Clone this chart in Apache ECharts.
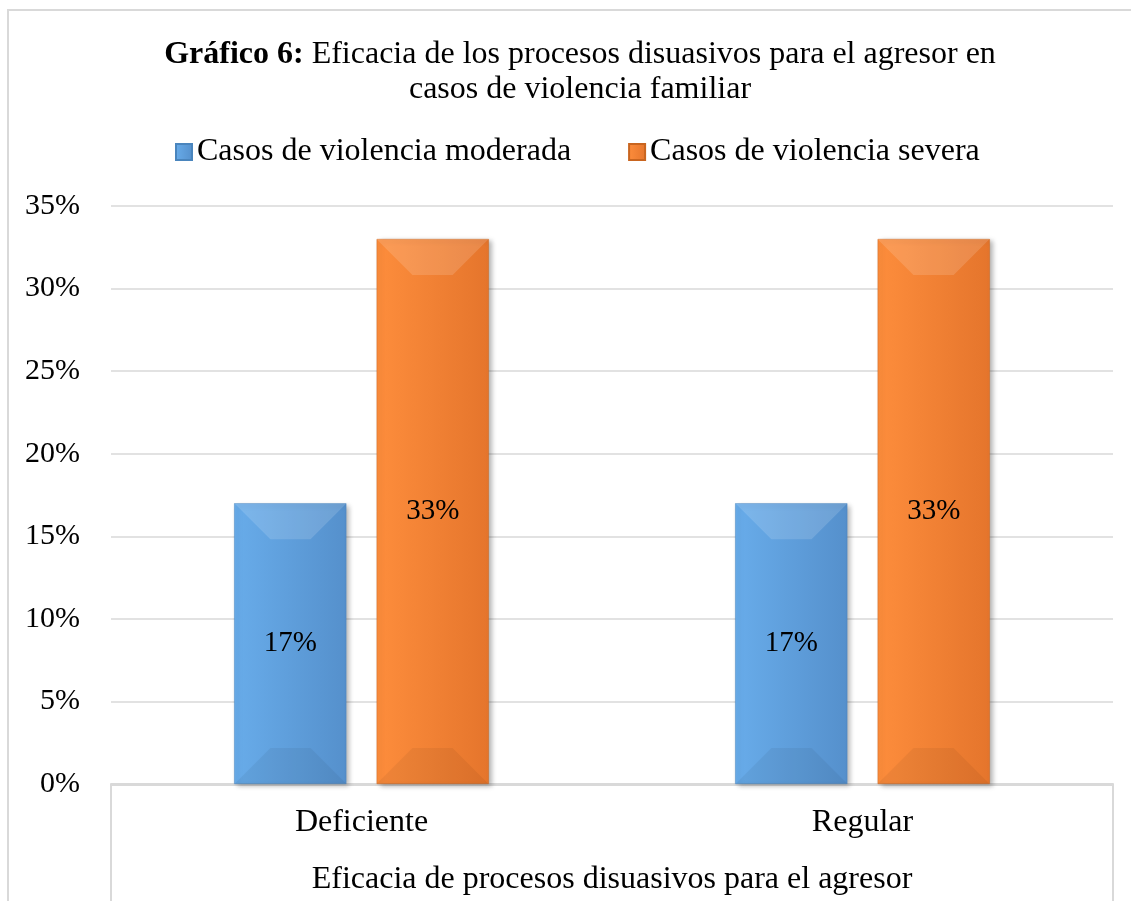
<!DOCTYPE html>
<html>
<head>
<meta charset="utf-8">
<script src="https://cdn.jsdelivr.net/npm/echarts@6/dist/echarts.min.js"></script>
<style>
  html, body { margin: 0; padding: 0; background: #fff; }
  #chart { width: 1131px; height: 901px; }
</style>
</head>
<body>
<div id="chart"></div>
<script>
// datos del gráfico
var categorias = ['Deficiente', 'Regular'];
var moderada = [17, 17];   // Casos de violencia moderada
var severa = [33, 33];     // Casos de violencia severa
var nombres = ['Casos de violencia moderada', 'Casos de violencia severa'];

var fuente = 'Liberation Serif';

var myChart = echarts.init(document.getElementById('chart'));

function grad(c1, c2) {
  return new echarts.graphic.LinearGradient(0, 0, 1, 0, [
    { offset: 0, color: c1 },
    { offset: 1, color: c2 }
  ]);
}

// biselado encima de cada barra
function bisel(lado) {
  return function (params, api) {
    var cat = api.value(0);
    var top = api.coord([cat, api.value(1)]);
    var base = api.coord([cat, 0]);
    var band = api.size([1, 0])[0];
    var bw = band * 0.224;
    var cx = top[0] + lado * band * 0.1418;
    var x0 = cx - bw / 2, x1 = cx + bw / 2;
    var y0 = top[1], y1 = base[1];
    var d = Math.min(36, bw / 3, (y1 - y0) / 3);
    return {
      type: 'group',
      children: [
        { type: 'polygon', shape: { points: [[x0, y0], [x1, y0], [x1 - d, y0 + d], [x0 + d, y0 + d]] },
          style: { fill: 'rgba(255,255,255,0.14)' } },
        { type: 'polygon', shape: { points: [[x0, y1], [x1, y1], [x1 - d, y1 - d], [x0 + d, y1 - d]] },
          style: { fill: 'rgba(0,0,0,0.05)' } }
      ]
    };
  };
}

var etiqueta = {
  show: true,
  position: 'inside',
  formatter: '{c}%',
  color: '#000',
  fontFamily: fuente,
  fontSize: 29
};

var option = {
  animation: false,
  textStyle: { fontFamily: fuente },
  title: {
    left: 575,
    top: 32,
    textAlign: 'center',
    text: '{b|Gráfico 6:} Eficacia de los procesos disuasivos para el agresor en\ncasos de violencia familiar',
    textStyle: {
      fontFamily: fuente,
      fontSize: 32,
      fontWeight: 'normal',
      color: '#000',
      lineHeight: 35,
      rich: {
        b: { fontFamily: fuente, fontSize: 32, fontWeight: 'bold', color: '#000', lineHeight: 35 }
      }
    }
  },
  legend: {
    data: nombres,
    left: 170,
    top: 131,
    icon: 'rect',
    itemWidth: 16,
    itemHeight: 16,
    itemGap: 57,
    textStyle: { fontFamily: fuente, fontSize: 32, color: '#000' }
  },
  grid: { left: 111, right: 18, top: 206, bottom: 116 },
  xAxis: {
    type: 'category',
    data: categorias,
    name: 'Eficacia de procesos disuasivos para el agresor',
    nameLocation: 'middle',
    nameGap: 80,
    nameTextStyle: { fontFamily: fuente, fontSize: 32, color: '#000' },
    axisLine: { lineStyle: { color: '#d9d9d9', width: 2 } },
    axisTick: { show: false },
    axisLabel: { margin: 23, fontFamily: fuente, fontSize: 32, color: '#000' }
  },
  yAxis: {
    type: 'value',
    min: 0,
    max: 35,
    interval: 5,
    axisLine: { show: false },
    axisTick: { show: false },
    axisLabel: { formatter: '{value}%', margin: 31, fontFamily: fuente, fontSize: 30, color: '#000' },
    splitLine: { lineStyle: { color: '#d9d9d9', width: 1.5 } }
  },
  series: [
    {
      name: nombres[0],
      type: 'bar',
      data: moderada,
      barWidth: '22.4%',
      barGap: '27%',
      itemStyle: {
        color: grad('#68acea', '#5590cc'),
        borderColor: '#4a85bd',
        borderWidth: 0.5,
        shadowColor: 'rgba(0,0,0,0.3)',
        shadowBlur: 5,
        shadowOffsetX: 3,
        shadowOffsetY: 2
      },
      label: etiqueta
    },
    {
      name: nombres[1],
      type: 'bar',
      data: severa,
      barWidth: '22.4%',
      barGap: '27%',
      itemStyle: {
        color: grad('#fd8d3c', '#e5752c'),
        borderColor: '#c9651f',
        borderWidth: 0.5,
        shadowColor: 'rgba(0,0,0,0.3)',
        shadowBlur: 5,
        shadowOffsetX: 3,
        shadowOffsetY: 2
      },
      label: etiqueta
    },
    {
      type: 'custom',
      silent: true,
      z: 3,
      renderItem: bisel(-1),
      data: moderada.map(function (v, i) { return [i, v]; })
    },
    {
      type: 'custom',
      silent: true,
      z: 3,
      renderItem: bisel(1),
      data: severa.map(function (v, i) { return [i, v]; })
    }
  ],
  graphic: [
    {
      type: 'rect',
      shape: { x: 8, y: 10, width: 1200, height: 1000 },
      style: { fill: 'none', stroke: '#d9d9d9', lineWidth: 2 },
      silent: true
    },
    {
      type: 'polyline',
      shape: { points: [[111, 901], [111, 785], [1113, 785], [1113, 901]] },
      style: { fill: 'none', stroke: '#d9d9d9', lineWidth: 2 },
      silent: true
    }
  ]
};

myChart.setOption(option);
</script>
</body>
</html>
